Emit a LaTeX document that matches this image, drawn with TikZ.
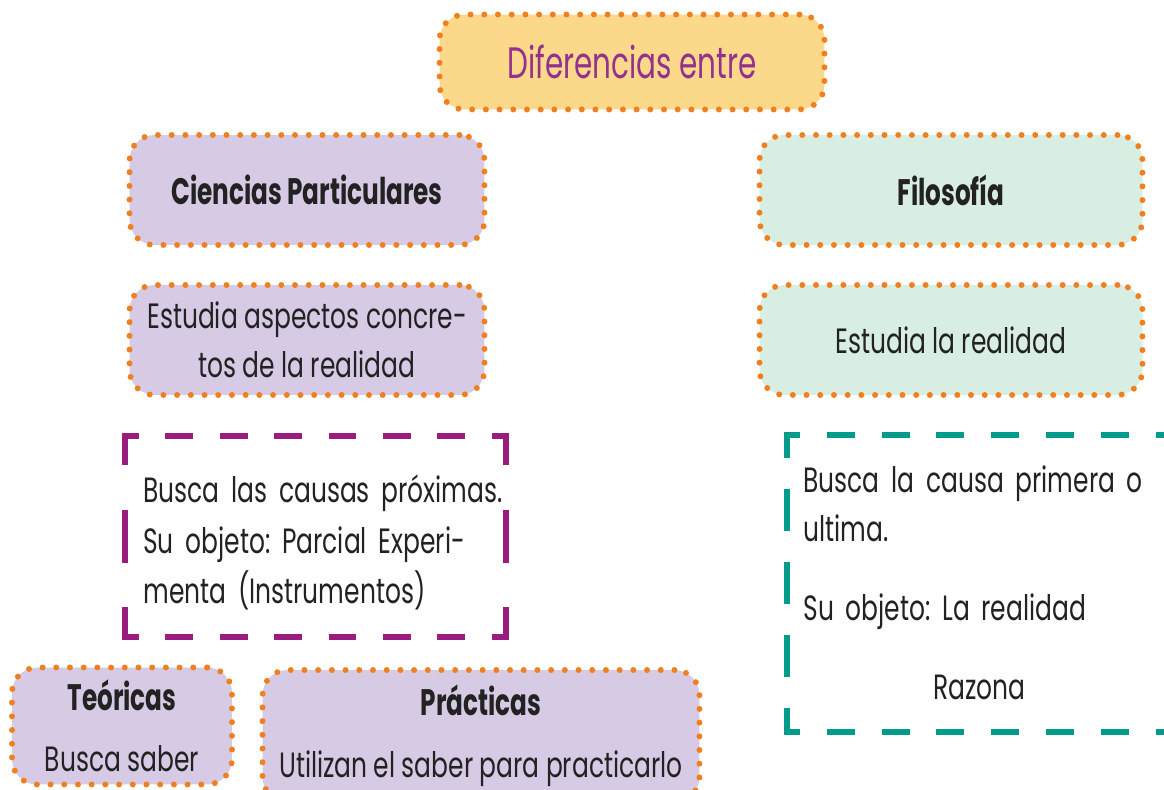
\documentclass[tikz,border=0pt]{standalone}
\usepackage{fontspec}
\setmainfont{Poppins}[FakeStretch=0.71, WordSpace=0.95]
\newfontfamily\titlefamily{Poppins}[FakeStretch=0.67]
\newfontfamily\headfamily{Poppins}[FakeStretch=0.67]
\definecolor{dotorange}{HTML}{F07F1F}
\definecolor{titlefill}{HTML}{FBD88A}
\definecolor{titletext}{HTML}{93318F}
\definecolor{lavender}{HTML}{D7CAE5}
\definecolor{palegreen}{HTML}{D9EEE2}
\definecolor{dashpurple}{HTML}{9A1C7E}
\definecolor{dashteal}{HTML}{009B89}
\definecolor{inkgray}{HTML}{222222}
\newcommand{\bodyfont}{\fontsize{20}{28}\selectfont\frenchspacing}
\newcommand{\headfont}{\headfamily\fontsize{21}{28}\selectfont\bfseries}
\begin{document}
\begin{tikzpicture}[x=0.02cm, y=-0.02cm,
  dotbox/.style={draw=dotorange, line width=3.4pt, dash pattern=on 0pt off 7.8pt,
    line cap=round, rounded corners=0.5cm, align=center, text=inkgray},
  framebox/.style={inner sep=0pt, outer sep=0pt},
  frameline/.style={line width=3.4pt, line cap=rect},
  % dashes along the purple frame
  purpleh/.style={frameline, dashpurple, dash pattern=on 12.47pt off 18.48pt, dash phase=6.24pt},
  purplev/.style={frameline, dashpurple, dash pattern=on 14.74pt off 28.91pt on 26.64pt off 28.91pt on 14.74pt off 0pt},
  % dashes along the teal frame
  tealh/.style={frameline, dashteal, dash pattern=on 12.47pt off 18.71pt, dash phase=6.80pt},
  tealv/.style={frameline, dashteal, dash pattern=on 11.34pt off 21.12pt on 20.41pt off 21.12pt on 20.41pt off 21.12pt on 20.41pt off 21.12pt on 11.34pt off 0pt},
  bodytext/.style={inner sep=0pt, text=inkgray, font=\bodyfont, align=left}]
  \useasboundingbox (0,0) rectangle (1164,790);
  \clip (0,0) rectangle (1164,790);

  % title
  \node[dotbox, fill=titlefill, minimum width=7.7cm, minimum height=1.9cm,
    text=titletext, font=\titlefamily\fontsize{25}{30}\selectfont] (title) at (632,62) {Diferencias entre};

  % left column
  \node[dotbox, fill=lavender, minimum width=7.1cm, minimum height=2.2cm,
    font=\headfont] (cp) at (307,190) {Ciencias Particulares};
  \node[dotbox, fill=lavender, minimum width=7.1cm, minimum height=2.2cm,
    font=\bodyfont] (cpdesc) at (307,340) {Estudia aspectos concre-\\tos de la realidad};

  % right column
  \node[dotbox, fill=palegreen, minimum width=7.66cm, minimum height=2.2cm,
    font=\headfont] (filo) at (951,190) {Filosofía};
  \node[dotbox, fill=palegreen, minimum width=7.66cm, minimum height=2.2cm,
    font=\bodyfont] (filodesc) at (951,340) {Estudia la realidad};

  % dashed frames
  \node[framebox, minimum width=7.62cm, minimum height=4.02cm] (cpobj) at (315.5,536.5) {};
  \draw[purpleh] (cpobj.north west) -- (cpobj.north east);
  \draw[purpleh] (cpobj.south west) -- (cpobj.south east);
  \draw[purplev] (cpobj.north west) -- (cpobj.south west);
  \draw[purplev] (cpobj.north east) -- (cpobj.south east);
  \node[bodytext, text width=7cm, anchor=north west, font=\fontsize{20}{29}\selectfont\frenchspacing] (cpobjtext) at (143,474)
    {\makebox[\linewidth][s]{Busca las causas próximas.}\\
     \makebox[\linewidth][s]{Su objeto: Parcial Experi-}\\
     menta (Instrumentos)};

  \node[framebox, minimum width=8.26cm, minimum height=5.94cm] (filoobj) at (993.5,583.5) {};
  \draw[tealh] (filoobj.north west) -- (filoobj.north east);
  \draw[tealh] (filoobj.south west) -- (filoobj.south east);
  \draw[tealv] (filoobj.north west) -- (filoobj.south west);
  \node[bodytext, text width=7.04cm, anchor=north west] (filoobjtext) at (803,465)
    {\makebox[\linewidth][s]{Busca la causa primera o}\\
     ultima.\\[17pt]
     Su objeto: La realidad\\[17pt]
     \makebox[\linewidth]{Razona}};

  % bottom row
  \node[dotbox, fill=lavender, minimum width=4.4cm, minimum height=2.34cm,
    font=\bodyfont] (teo) at (122,726) {{\headfont Teóricas}\\[7pt]Busca saber};
  \node[dotbox, fill=lavender, minimum width=8.74cm, minimum height=2.64cm,
    font=\bodyfont] (prac) at (481,736) {{\headfont Prácticas}\\[7pt]Utilizan el saber para practicarlo};
\end{tikzpicture}
\end{document}
